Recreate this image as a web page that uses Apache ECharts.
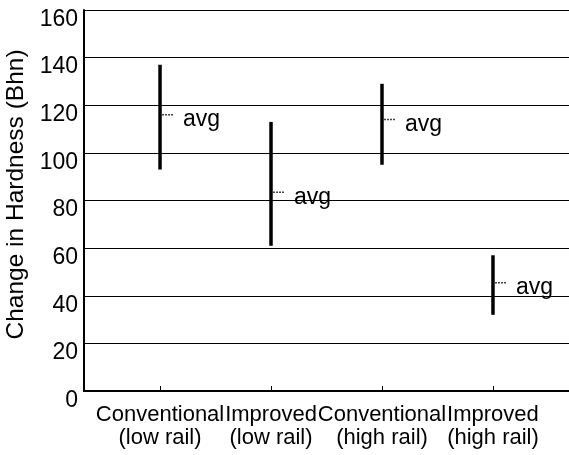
<!DOCTYPE html>
<html>
<head>
<meta charset="utf-8">
<script src="https://cdn.jsdelivr.net/npm/echarts@6/dist/echarts.min.js"></script>
<style>
  html, body { margin: 0; padding: 0; background: #fff; }
  #chart { width: 569px; height: 455px; }
</style>
</head>
<body>
<div id="chart"></div>
<script>
// categories along x
const categories = ['Conventional\n(low rail)', 'Improved\n(low rail)', 'Conventional\n(high rail)', 'Improved\n(high rail)']
// range of change in hardness (Bhn)
const highValues = [137, 113, 129, 57]
const lowValues = [93, 61, 95, 32]
const avgValues = [116, 83.5, 114, 45.5]
const yTicks = [0, 20, 40, 60, 80, 100, 120, 140, 160]

const font = 'Liberation Sans, Arial, Helvetica, sans-serif'
const rangeData = categories.map((c, i) => [i, lowValues[i], highValues[i], avgValues[i]])

const chart = echarts.init(document.getElementById('chart'))
chart.setOption({
  animation: false,
  grid: {
    left: 84,
    right: 0,
    top: 10,
    bottom: 64,
    outerBoundsMode: 'none'
  },
  xAxis: {
    type: 'value',
    min: -0.685,
    max: 3.685,
    splitLine: { show: false },
    axisLine: { lineStyle: { color: '#000', width: 2 } },
    axisTick: {
      customValues: [0, 1, 2, 3],
      inside: true,
      length: 5,
      lineStyle: { color: '#000' }
    },
    axisLabel: {
      customValues: [0, 1, 2, 3],
      formatter: v => categories[v],
      showMinLabel: true,
      showMaxLabel: true,
      color: '#000',
      fontFamily: font,
      fontSize: 22,
      lineHeight: 23,
      margin: 12
    }
  },
  yAxis: {
    type: 'value',
    min: yTicks[0],
    max: yTicks[yTicks.length - 1],
    interval: 20,
    name: 'Change in Hardness (Bhn)',
    nameLocation: 'middle',
    nameGap: 48,
    nameTextStyle: {
      color: '#000',
      fontFamily: font,
      fontSize: 24.5,
      padding: [0, 0, 0, 12]
    },
    axisLine: { show: true, onZero: false, lineStyle: { color: '#000', width: 2 } },
    axisTick: { show: false },
    axisLabel: {
      color: '#000',
      fontFamily: font,
      fontSize: 23,
      lineHeight: 19,
      verticalAlign: 'top',
      margin: 6
    },
    splitLine: { lineStyle: { color: '#000', width: 1 } }
  },
  series: [
    {
      type: 'custom',
      data: rangeData,
      renderItem(params, api) {
        const x = api.value(0)
        const lo = api.coord([x, api.value(1)])
        const hi = api.coord([x, api.value(2)])
        const av = api.coord([x, api.value(3)])
        return {
          type: 'group',
          children: [
            {
              type: 'line',
              shape: { x1: lo[0], y1: lo[1], x2: hi[0], y2: hi[1] },
              style: { stroke: '#000', lineWidth: 3.5 }
            },
            {
              type: 'line',
              shape: { x1: av[0] + 2, y1: av[1], x2: av[0] + 13, y2: av[1] },
              style: { stroke: '#444', lineWidth: 1.5, lineDash: [2, 1] }
            },
            {
              type: 'text',
              style: {
                x: av[0] + 23,
                y: av[1] + 5,
                text: 'avg',
                fill: '#000',
                font: '23px ' + font,
                verticalAlign: 'middle'
              }
            }
          ]
        }
      }
    }
  ]
})
</script>
</body>
</html>
